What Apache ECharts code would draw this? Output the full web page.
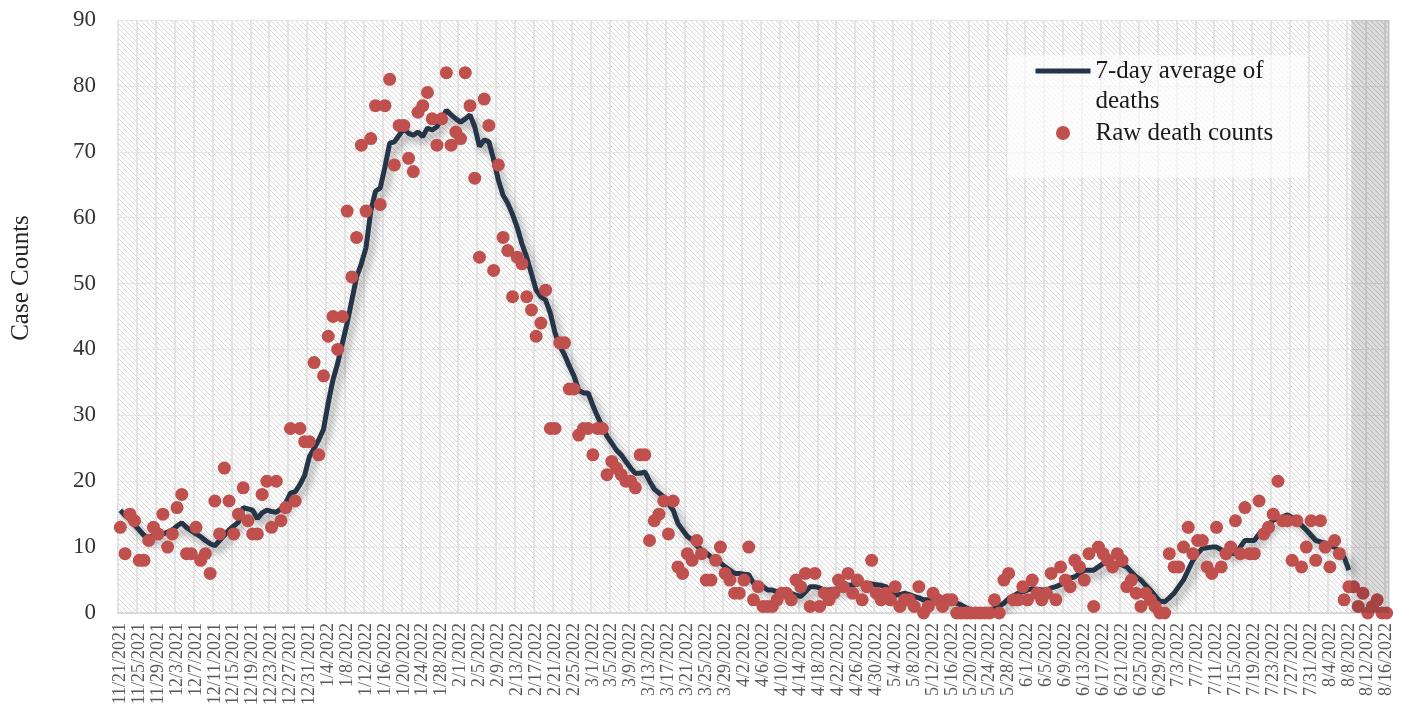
<!DOCTYPE html>
<html>
<head>
<meta charset="utf-8">
<title>Deaths</title>
<script src="https://cdn.jsdelivr.net/npm/echarts@6/dist/echarts.min.js"></script>
<style>
  html, body { margin: 0; padding: 0; background: #fff; }
  #chart { width: 1416px; height: 719px; }
</style>
</head>
<body>
<div id="chart"></div>
<script>
// daily categories 11/21/2021 .. 8/16/2022
const startDay = new Date(2021, 10, 21);
const dayCount = 269;
const dates = [];
for (let i = 0; i < dayCount; i++) {
  const d = new Date(startDay.getFullYear(), startDay.getMonth(), startDay.getDate() + i);
  dates.push(`${d.getMonth() + 1}/${d.getDate()}/${d.getFullYear()}`);
}

// raw death counts, one per day
const rawDeaths = [
  13, 9, 15, 14, 8, 8, 11, 13, 12, 15,
  10, 12, 16, 18, 9, 9, 13, 8, 9, 6,
  17, 12, 22, 17, 12, 15, 19, 14, 12, 12,
  18, 20, 13, 20, 14, 16, 28, 17, 28, 26,
  26, 38, 24, 36, 42, 45, 40, 45, 61, 51,
  57, 71, 61, 72, 77, 62, 77, 81, 68, 74,
  74, 69, 67, 76, 77, 79, 75, 71, 75, 82,
  71, 73, 72, 82, 77, 66, 54, 78, 74, 52,
  68, 57, 55, 48, 54, 53, 48, 46, 42, 44,
  49, 28, 28, 41, 41, 34, 34, 27, 28, 28,
  24, 28, 28, 21, 23, 22, 21, 20, 20, 19,
  24, 24, 11, 14, 15, 17, 12, 17, 7, 6,
  9, 8, 11, 9, 5, 5, 8, 10, 6, 5,
  3, 3, 5, 10, 2, 4, 1, 1, 1, 2,
  3, 3, 2, 5, 4, 6, 1, 6, 1, 3,
  2, 3, 5, 4, 6, 3, 5, 2, 4, 8,
  3, 2, 3, 2, 4, 1, 2, 2, 1, 4,
  0, 1, 3, 2, 1, 2, 2, 0, 0, 0,
  0, 0, 0, 0, 0, 2, 0, 5, 6, 2,
  2, 4, 2, 5, 3, 2, 3, 6, 2, 7,
  5, 4, 8, 7, 5, 9, 1, 10, 9, 8,
  7, 9, 8, 4, 5, 3, 1, 3, 2, 1,
  0, 0, 9, 7, 7, 10, 13, 9, 11, 11,
  7, 6, 13, 7, 9, 10, 14, 9, 16, 9,
  9, 17, 12, 13, 15, 20, 14, 14, 8, 14,
  7, 10, 14, 8, 14, 10, 7, 11, 9, 2,
  4, 4, 1, 3, 0, 1, 2, 0, 0
];

// 7-day average, ends 8/8/2022
const avgDeaths = [
  15.6, 14.8, 14.2, 13.4, 12.6, 11.8, 11.4, 11.8, 12.0, 12.0,
  12.3, 12.6, 13.2, 13.7, 13.0, 12.5, 12.0, 11.6, 11.0, 10.5,
  10.2, 11.0, 11.8, 12.6, 13.2, 13.8, 16.0, 15.8, 15.6, 14.3,
  15.2, 15.6, 15.4, 15.3, 15.8, 16.7, 18.2, 18.4, 19.5, 20.9,
  23.7, 25.0, 26.3, 27.9, 31.9, 35.4, 37.9, 41.0, 44.0, 47.5,
  51.0, 53.0, 55.5, 61.0, 64.0, 64.5, 67.7, 71.3, 71.5, 72.5,
  73.5, 72.8, 72.5, 73.0, 72.3, 73.6, 73.3, 73.8, 75.0, 76.3,
  75.6, 75.0, 74.5, 75.0, 75.6, 73.8, 70.8, 71.8, 71.5, 68.8,
  65.7, 63.4, 62.2, 60.5, 58.5, 56.0, 54.0, 51.5, 49.0, 48.0,
  47.5, 45.5, 42.5, 40.5, 39.2, 37.5, 36.0, 33.8, 33.4, 33.4,
  31.5, 29.8, 28.3, 26.8, 25.8, 24.7, 24.0, 23.0, 22.0, 21.2,
  21.2, 21.4, 20.0, 18.8, 18.2, 17.6, 16.6, 15.6, 13.6, 12.6,
  11.6, 11.1, 10.2, 9.6, 9.1, 8.5, 8.0, 7.6, 7.0, 6.5,
  6.0, 6.0, 5.9, 5.8, 4.5, 4.5, 4.0, 3.5, 3.5, 3.2,
  3.0, 3.0, 3.0, 2.7, 2.5, 3.2, 4.0, 4.0, 3.8, 3.5,
  3.5, 3.6, 3.7, 3.9, 4.2, 4.3, 4.4, 4.5, 4.5, 4.4,
  4.3, 4.2, 4.0, 3.3, 2.7, 2.8, 3.0, 2.8, 2.5, 2.3,
  2.0, 2.0, 2.0, 2.0, 2.0, 2.0, 1.8, 1.5, 1.2, 0.8,
  0.5, 0.5, 0.5, 0.5, 0.5, 0.7, 1.0, 1.5, 2.2, 2.6,
  3.0, 3.2, 3.5, 3.7, 3.6, 3.5, 3.5, 3.8, 4.0, 4.3,
  4.8, 5.3, 5.5, 6.0, 6.5, 6.5, 6.5, 7.0, 7.5, 7.5,
  7.5, 7.5, 7.3, 7.0, 6.2, 5.5, 5.0, 4.2, 3.5, 2.6,
  1.8, 1.7, 2.3, 3.0, 4.0, 5.0, 6.5, 8.0, 9.0, 9.8,
  9.9, 10.0, 10.0, 9.6, 9.3, 9.1, 9.0, 10.0, 11.0, 11.0,
  11.0, 12.0, 12.6, 13.4, 14.1, 14.4, 14.6, 14.9, 14.5, 14.1,
  13.3, 12.6, 11.8, 11.0, 10.8, 10.6, 10.3, 10.0, 9.2, 8.5,
  6.5
];

// incomplete-data period shaded at the right
const shadeFrom = '8/9/2022';
const yMax = 90;

const avgName = '7-day average of deaths';
const rawName = 'Raw death counts';
const font = 'Liberation Serif';

// diagonal hatch used as plot background
const makeHatch = (bg, stroke) => {
  const s = 5;
  const c = document.createElement('canvas');
  c.width = s; c.height = s;
  const ctx = c.getContext('2d');
  ctx.fillStyle = bg;
  ctx.fillRect(0, 0, s, s);
  ctx.strokeStyle = stroke;
  ctx.lineWidth = 1;
  ctx.beginPath();
  ctx.moveTo(0, 0); ctx.lineTo(s, s);
  ctx.moveTo(-1, s - 1); ctx.lineTo(1, s + 1);
  ctx.moveTo(s - 1, -1); ctx.lineTo(s + 1, 1);
  ctx.stroke();
  return c;
};

const shadeIdx = dates.indexOf(shadeFrom);
const shadeData = dates.map((d, i) => (i >= shadeIdx ? yMax : null));

const chart = echarts.init(document.getElementById('chart'));

chart.setOption({
  backgroundColor: '#fff',
  animation: false,
  textStyle: { fontFamily: font },
  grid: {
    left: 118,
    right: 27,
    top: 20,
    bottom: 106,
    show: true,
    borderWidth: 0,
    backgroundColor: { image: makeHatch('#ffffff', '#d8d8d8'), repeat: 'repeat' }
  },
  graphic: [
    {
      type: 'rect',
      z: 1,
      shape: { x: 1007, y: 55, width: 300, height: 123 },
      style: { fill: 'rgba(255,255,255,0.6)' }
    },
    {
      type: 'text',
      x: 21,
      y: 278,
      rotation: Math.PI / 2,
      style: {
        text: 'Case Counts',
        font: `25px "${font}"`,
        fill: '#262626',
        align: 'center',
        verticalAlign: 'middle'
      }
    }
  ],
  legend: {
    orient: 'vertical',
    left: 1033,
    top: 26,
    padding: 0,
    itemGap: 2,
    itemWidth: 55,
    itemHeight: 14,
    lineStyle: { width: 5, shadowBlur: 0, shadowColor: 'rgba(0,0,0,0)' },
    textStyle: { fontFamily: font, fontSize: 25, lineHeight: 30, color: '#1a1a1a' },
    // blank first line keeps the icon level with the first text line
    formatter: (name) => (name === avgName ? '\n7-day average of\ndeaths' : name),
    data: [avgName, rawName]
  },
  xAxis: {
    type: 'category',
    data: dates,
    axisLine: { lineStyle: { color: '#d9d9d9', width: 2 } },
    axisTick: { show: false },
    axisLabel: {
      interval: 3,
      rotate: 90,
      margin: 10,
      fontFamily: font,
      fontSize: 18,
      color: '#595959'
    },
    splitLine: { show: true, interval: 3, lineStyle: { color: '#e3e3e3', width: 2 } }
  },
  yAxis: {
    type: 'value',
    min: 0,
    max: yMax,
    interval: 10,
    axisLine: { show: false },
    axisTick: { show: false },
    axisLabel: { margin: 22, fontFamily: font, fontSize: 23, color: '#333' },
    splitLine: { lineStyle: { color: '#e6e6e6', width: 1 } }
  },
  series: [
    {
      name: avgName,
      type: 'line',
      data: avgDeaths,
      z: 2,
      symbol: 'none',
      lineStyle: {
        color: '#263447',
        width: 5,
        shadowColor: 'rgba(0,0,0,0.4)',
        shadowBlur: 8,
        shadowOffsetX: 4,
        shadowOffsetY: 5
      },
      // transparent so the legend shows only the line
      itemStyle: { color: 'rgba(0,0,0,0)' }
    },
    {
      name: rawName,
      type: 'scatter',
      data: rawDeaths,
      z: 3,
      symbolSize: 13,
      itemStyle: { color: '#c0504d', opacity: 1 }
    },
    {
      name: 'shade',
      type: 'bar',
      data: shadeData,
      z: 4,
      barCategoryGap: '0%',
      silent: true,
      itemStyle: { color: 'rgba(0,0,0,0.14)' }
    }
  ]
});
</script>
</body>
</html>
